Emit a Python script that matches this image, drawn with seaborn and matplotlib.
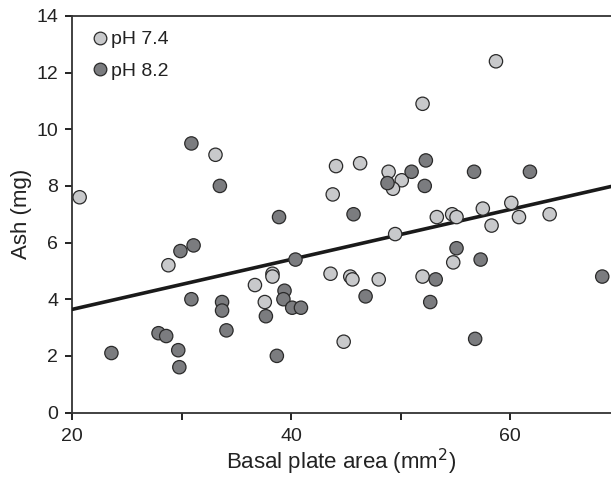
import matplotlib
matplotlib.use("Agg")
import matplotlib.pyplot as plt
import seaborn as sns
import pandas as pd
import numpy as np

# pH 7.4 (light grey)
x_74 = [20.7, 33.1, 28.8, 36.7, 37.6, 38.3, 38.3, 43.6, 45.4, 45.6, 48.0, 52.0,
        44.8, 54.8, 49.5, 53.3, 54.7, 55.1, 57.5, 58.3, 60.1, 60.8, 63.6, 58.7,
        52.0, 44.1, 46.3, 48.9, 50.1, 49.3, 43.8]
y_74 = [7.6, 9.1, 5.2, 4.5, 3.9, 4.9, 4.8, 4.9, 4.8, 4.7, 4.7, 4.8,
        2.5, 5.3, 6.3, 6.9, 7.0, 6.9, 7.2, 6.6, 7.4, 6.9, 7.0, 12.4,
        10.9, 8.7, 8.8, 8.5, 8.2, 7.9, 7.7]
# pH 8.2 (dark grey)
x_82 = [30.9, 33.5, 29.9, 31.1, 30.9, 33.7, 33.7, 34.1, 27.9, 28.6, 23.6, 29.7,
        29.8, 38.9, 45.7, 40.4, 39.4, 39.3, 40.1, 40.9, 37.7, 38.7, 46.8, 52.7,
        53.2, 55.1, 57.3, 56.8, 68.4, 52.3, 51.0, 48.8, 52.2, 56.7, 61.8]
y_82 = [9.5, 8.0, 5.7, 5.9, 4.0, 3.9, 3.6, 2.9, 2.8, 2.7, 2.1, 2.2,
        1.6, 6.9, 7.0, 5.4, 4.3, 4.0, 3.7, 3.7, 3.4, 2.0, 4.1, 3.9,
        4.7, 5.8, 5.4, 2.6, 4.8, 8.9, 8.5, 8.1, 8.0, 8.5, 8.5]
groups = ["pH 7.4", "pH 8.2"]

# fitted line
fit_x = [20.0, 69.2]
fit_y = [3.64, 7.98]

x_ticks = [20, 30, 40, 50, 60]
x_tick_labels = ["20", "", "40", "", "60"]
y_ticks = [0, 2, 4, 6, 8, 10, 12, 14]

df = pd.DataFrame({
    "x": x_74 + x_82,
    "y": y_74 + y_82,
    "g": [groups[0]] * len(x_74) + [groups[1]] * len(x_82),
})
fit_df = pd.DataFrame({"x": fit_x, "y": fit_y})

sns.set_style("ticks")
plt.rcParams["font.family"] = ["Liberation Sans", "DejaVu Sans"]

fig = plt.figure(figsize=(6.11, 4.80), dpi=100)
ax = fig.add_axes([0.1178, 0.1406, 0.8822, 0.8261])

sns.lineplot(data=fit_df, x="x", y="y", ax=ax, color="#1a1a1a", lw=2.6,
             zorder=3, legend=False)
sns.scatterplot(data=df, x="x", y="y", hue="g", hue_order=groups,
                palette={groups[0]: "#c8c9cb", groups[1]: "#7b7c7f"},
                s=92, edgecolor="#2a2a2a", linewidth=0.9, ax=ax, zorder=4)

ax.set_xlim(20, 69.2)
ax.set_ylim(0, 14)
ax.set_xticks(x_ticks)
ax.set_xticklabels(x_tick_labels)
ax.set_yticks(y_ticks)
ax.tick_params(axis="both", direction="out", length=5, width=1.4,
               color="#222222", labelsize=14, labelcolor="#222222")
ax.tick_params(axis="x", pad=6.5)
ax.tick_params(axis="y", pad=5)
for side in ["left", "bottom", "top"]:
    ax.spines[side].set_color("#333333")
    ax.spines[side].set_linewidth(1.3)
ax.spines["right"].set_visible(False)

ax.set_xlabel("Basal plate area (mm$^2$)", fontsize=16, color="#222222", labelpad=1)
ax.set_ylabel("Ash (mg)", fontsize=16, color="#222222", labelpad=3)

leg = ax.legend(loc="upper left", bbox_to_anchor=(0.0, 1.009), frameon=False,
                fontsize=14, handletextpad=0.05, borderaxespad=0.55,
                labelspacing=0.72, markerscale=0.95, handlelength=1.0)
for t in leg.get_texts():
    t.set_color("#222222")

fig.savefig("out.png", dpi=100)
